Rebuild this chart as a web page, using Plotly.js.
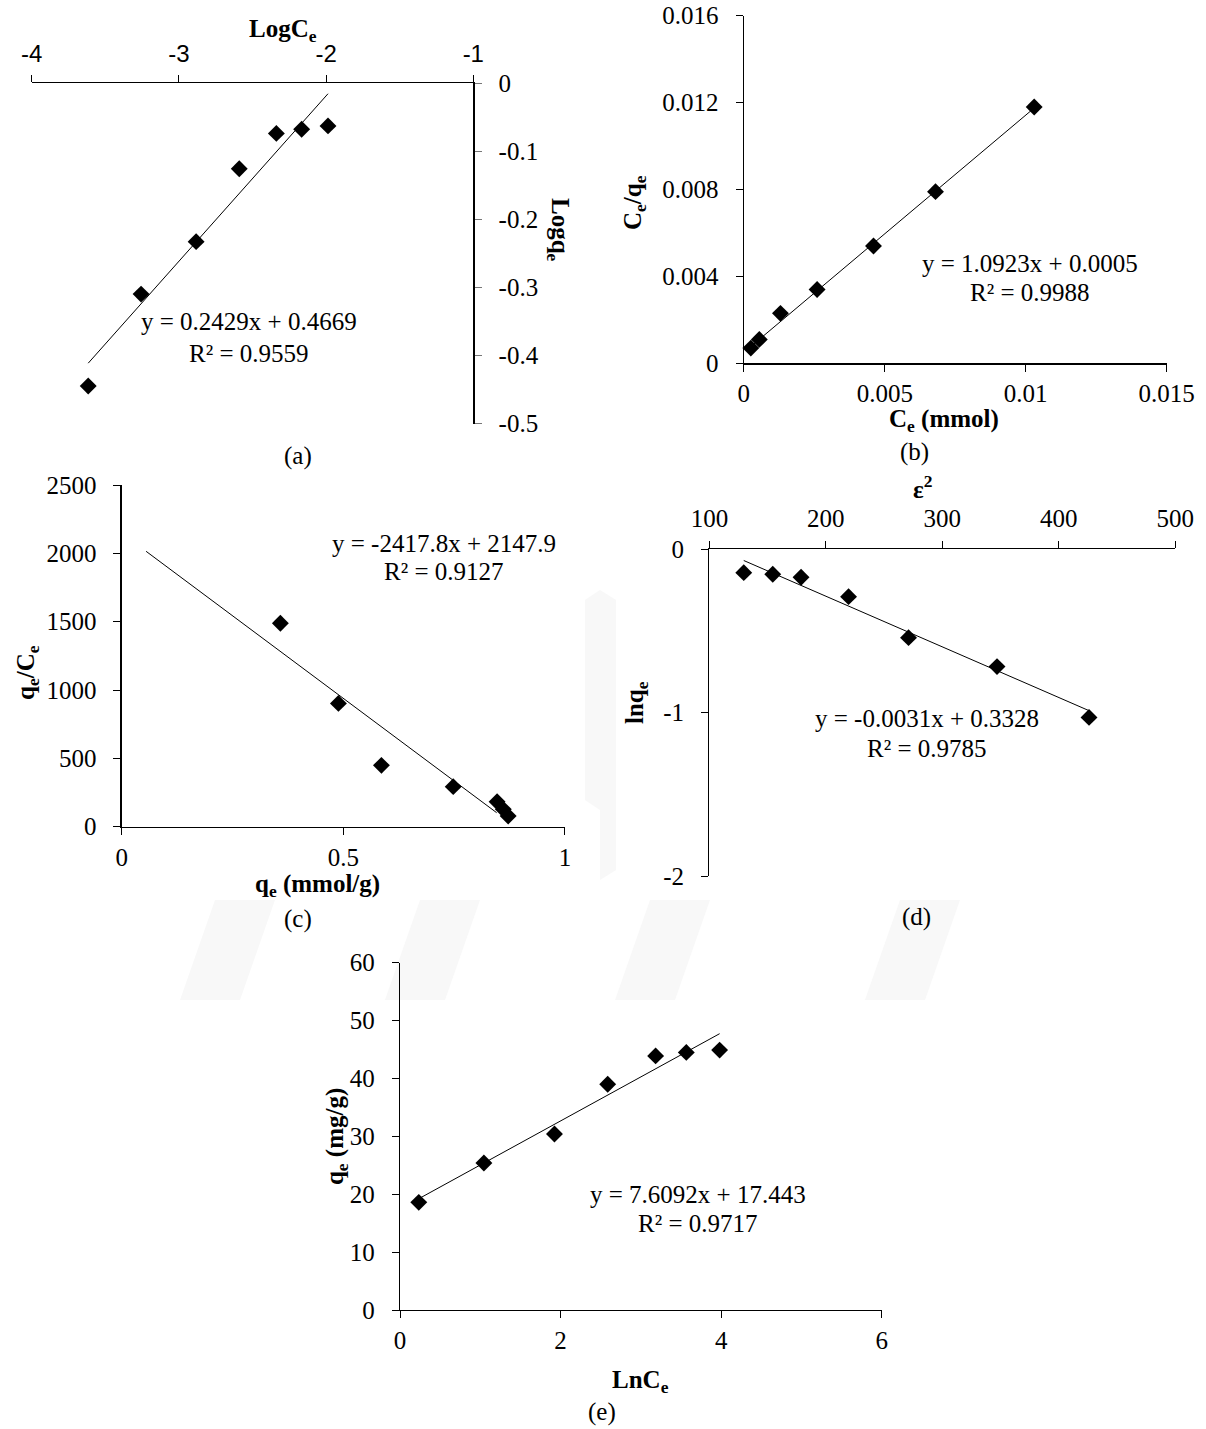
<!DOCTYPE html>
<html>
<head>
<meta charset="utf-8">
<script src="https://cdn.plot.ly/plotly-3.0.1.min.js"></script>
<style>html,body{margin:0;padding:0;background:#fff;}#chart{width:1206px;height:1429px;}</style>
</head>
<body>
<div id="chart"></div>
<script>
// ---------- DATA ----------
// (a) Freundlich: LogCe vs Logqe
const aX = [-3.616, -3.257, -2.883, -2.590, -2.338, -2.166, -1.987];
const aY = [-0.445, -0.310, -0.233, -0.126, -0.074, -0.068, -0.063];
const aFit = [0.2429, 0.4669];
const aEq = ["y = 0.2429x + 0.4669", "R² = 0.9559"];
const aXTickVals = [-4, -3, -2, -1];
const aXTickText = ["-4", "-3", "-2", "-1"];
const aYTickVals = [0, -0.1, -0.2, -0.3, -0.4, -0.5];
const aYTickText = ["0", "-0.1", "-0.2", "-0.3", "-0.4", "-0.5"];

// (b) Langmuir: Ce vs Ce/qe
const bX = [0.00025, 0.00055, 0.0013, 0.0026, 0.0046, 0.0068, 0.0103];
const bY = [0.0007, 0.0011, 0.0023, 0.0034, 0.0054, 0.0079, 0.0118];
const bFit = [1.0923, 0.0005];
const bEq = ["y = 1.0923x + 0.0005", "R² = 0.9988"];
const bXTickVals = [0, 0.005, 0.01, 0.015];
const bXTickText = ["0", "0.005", "0.01", "0.015"];
const bYTickVals = [0, 0.004, 0.008, 0.012, 0.016];
const bYTickText = ["0", "0.004", "0.008", "0.012", "0.016"];

// (c) Scatchard: qe vs qe/Ce
const cX = [0.358, 0.489, 0.586, 0.748, 0.847, 0.861, 0.872];
const cY = [1488, 902, 449, 293, 183, 127, 78];
const cFit = [-2417.8, 2147.9];
const cFitRange = [0.055, 0.846];
const cEq = ["y = -2417.8x + 2147.9", "R² = 0.9127"];
const cXTickVals = [0, 0.5, 1];
const cXTickText = ["0", "0.5", "1"];
const cYTickVals = [0, 500, 1000, 1500, 2000, 2500];
const cYTickText = ["0", "500", "1000", "1500", "2000", "2500"];

// (d) D-R: eps^2 vs lnqe
const dX = [129.5, 154.4, 178.7, 219.5, 271, 347, 426];
const dY = [-0.143, -0.153, -0.171, -0.290, -0.541, -0.718, -1.029];
const dFit = [-0.0031, 0.3328];
const dEq = ["y = -0.0031x + 0.3328", "R² = 0.9785"];
const dXTickVals = [100, 200, 300, 400, 500];
const dXTickText = ["100", "200", "300", "400", "500"];
const dYTickVals = [0, -1, -2];
const dYTickText = ["0", "-1", "-2"];

// (e) Temkin: LnCe vs qe
const eX = [0.234, 1.045, 1.924, 2.587, 3.184, 3.566, 3.981];
const eY = [18.6, 25.4, 30.4, 39.0, 43.9, 44.5, 44.9];
const eFit = [7.6092, 17.443];
const eEq = ["y = 7.6092x + 17.443", "R² = 0.9717"];
const eXTickVals = [0, 2, 4, 6];
const eXTickText = ["0", "2", "4", "6"];
const eYTickVals = [0, 10, 20, 30, 40, 50, 60];
const eYTickText = ["0", "10", "20", "30", "40", "50", "60"];

// ---------- LAYOUT HELPERS ----------
const W = 1206, H = 1429;
const SERIF = "Liberation Serif";
const SANS = "Liberation Sans";
const FS = 25;
const hx = v => v / W;
const vy = v => 1 - v / H;
const domX = (l, r) => [l / W, r / W];
const domY = (t, b) => [1 - b / H, 1 - t / H];

function scatter(x, y, xa, ya) {
  return {x: x, y: y, xaxis: xa, yaxis: ya, type: 'scatter', mode: 'markers',
    marker: {symbol: 'diamond', size: 13, color: '#000'}, hoverinfo: 'skip', cliponaxis: false};
}
function fitLine(fit, x0, x1, xa, ya) {
  const xs = [x0, x1];
  return {x: xs, y: xs.map(v => fit[0] * v + fit[1]), xaxis: xa, yaxis: ya, type: 'scatter', mode: 'lines',
    line: {color: '#000', width: 1}, hoverinfo: 'skip', cliponaxis: false};
}
const mn = a => Math.min.apply(null, a), mx = a => Math.max.apply(null, a);

const data = [
  fitLine(aFit, mn(aX), mx(aX), 'x', 'y'), scatter(aX, aY, 'x', 'y'),
  fitLine(bFit, mn(bX), mx(bX), 'x2', 'y2'), scatter(bX, bY, 'x2', 'y2'),
  fitLine(cFit, cFitRange[0], cFitRange[1], 'x3', 'y3'), scatter(cX, cY, 'x3', 'y3'),
  fitLine(dFit, mn(dX), mx(dX), 'x4', 'y4'), scatter(dX, dY, 'x4', 'y4'),
  fitLine(eFit, mn(eX), mx(eX), 'x5', 'y5'), scatter(eX, eY, 'x5', 'y5')
];

function ax(extra) {
  return Object.assign({
    showline: true, linecolor: '#000', linewidth: 1.3, ticks: 'outside', ticklen: 7, tickwidth: 1,
    tickcolor: '#000', showgrid: false, zeroline: false, fixedrange: true, tickmode: 'array',
    ticklabelstandoff: 12,
    tickfont: {family: SERIF, size: FS, color: '#000'}
  }, extra);
}

function ann(text, x, y, opts) {
  return Object.assign({text: text, x: hx(x), y: vy(y), xref: 'paper', yref: 'paper', showarrow: false,
    xanchor: 'center', yanchor: 'middle', font: {family: SERIF, size: FS, color: '#000'}}, opts || {});
}

// faint background watermark bands (decoration only, paper pixels)
function band(pts) {
  const d = pts.map((p, i) => (i ? 'L' : 'M') + hx(p[0]).toFixed(4) + ',' + vy(p[1]).toFixed(4)).join(' ') + ' Z';
  return {type: 'path', xref: 'paper', yref: 'paper', path: d, fillcolor: '#f8f8f8', line: {width: 0}, layer: 'below'};
}
const shapes = [
  band([[585, 600], [600, 590], [600, 810], [585, 800]]),
  band([[600, 590], [616, 600], [616, 870], [600, 880]]),
  band([[215, 900], [275, 900], [240, 1000], [180, 1000]]),
  band([[420, 900], [480, 900], [445, 1000], [385, 1000]]),
  band([[650, 900], [710, 900], [675, 1000], [615, 1000]]),
  band([[900, 900], [960, 900], [925, 1000], [865, 1000]])
];

const layout = {
  width: W, height: H, margin: {l: 0, r: 0, t: 0, b: 0}, showlegend: false,
  paper_bgcolor: '#fff', plot_bgcolor: 'rgba(0,0,0,0)',
  font: {family: SERIF, size: FS, color: '#000'},
  shapes: shapes,
  // (a)
  xaxis: ax({domain: domX(31.7, 473.3), range: [-4, -1], side: 'top', anchor: 'y',
    tickvals: aXTickVals, ticktext: aXTickText, tickfont: {family: SANS, size: 24, color: '#000'}, ticklabelstandoff: 3}),
  yaxis: ax({domain: domY(83, 423.5), range: [-0.5, 0], side: 'right', anchor: 'x',
    tickvals: aYTickVals, ticktext: aYTickText, tickcolor: '#777'}),
  // (b)
  xaxis2: ax({domain: domX(743.8, 1166.7), range: [0, 0.015], anchor: 'y2',
    tickvals: bXTickVals, ticktext: bXTickText, ticklabelstandoff: 0}),
  yaxis2: ax({domain: domY(15.7, 363.3), range: [0, 0.016], anchor: 'x2',
    tickvals: bYTickVals, ticktext: bYTickText}),
  // (c)
  xaxis3: ax({domain: domX(121.7, 564.9), range: [0, 1], anchor: 'y3',
    tickvals: cXTickVals, ticktext: cXTickText, ticklabelstandoff: 1}),
  yaxis3: ax({domain: domY(485, 826.7), range: [0, 2500], anchor: 'x3',
    tickvals: cYTickVals, ticktext: cYTickText}),
  // (d)
  xaxis4: ax({domain: domX(709.4, 1175.2), range: [100, 500], side: 'top', anchor: 'y4',
    tickvals: dXTickVals, ticktext: dXTickText, ticklabelstandoff: 4}),
  yaxis4: ax({domain: domY(549.3, 876), range: [-2, 0], anchor: 'x4',
    tickvals: dYTickVals, ticktext: dYTickText}),
  // (e)
  xaxis5: ax({domain: domX(400, 881.7), range: [0, 6], anchor: 'y5',
    tickvals: eXTickVals, ticktext: eXTickText, ticklabelstandoff: 1}),
  yaxis5: ax({domain: domY(962.7, 1310), range: [0, 60], anchor: 'x5',
    tickvals: eYTickVals, ticktext: eYTickText}),
  annotations: [
    // (a)
    ann('<b>LogC<sub>e</sub></b>', 283, 30),
    ann('<b>Logq<sub>e</sub></b>', 558, 230, {textangle: 90}),
    ann(aEq[0], 249, 322), ann(aEq[1], 249, 353),
    ann('(a)', 297.7, 456),
    // (b)
    ann('<b>C<sub>e</sub>/q<sub>e</sub></b>', 634, 203, {textangle: -90}),
    ann('<b>C<sub>e</sub> (mmol)</b>', 944, 420),
    ann(bEq[0], 1030, 263.3), ann(bEq[1], 1030, 292),
    ann('(b)', 914, 452),
    // (c)
    ann('<b>q<sub>e</sub>/C<sub>e</sub></b>', 27, 673, {textangle: -90}),
    ann('<b>q<sub>e</sub> (mmol/g)</b>', 317.6, 885),
    ann(cEq[0], 444, 543.3), ann(cEq[1], 444, 571.7),
    ann('(c)', 297.7, 919),
    // (d)
    ann('<b>ε<sup>2</sup></b>', 922.8, 487),
    ann('<b>lnq<sub>e</sub></b>', 637, 703, {textangle: -90}),
    ann(dEq[0], 926.6, 718.3), ann(dEq[1], 926.6, 748.3),
    ann('(d)', 916, 916.7),
    // (e)
    ann('<b>q<sub>e</sub> (mg/g)</b>', 336.4, 1136.7, {textangle: -90}),
    ann('<b>LnC<sub>e</sub></b>', 640.6, 1381),
    ann(eEq[0], 698, 1194), ann(eEq[1], 698, 1223.3),
    ann('(e)', 602.3, 1411.7)
  ]
};

Plotly.newPlot('chart', data, layout, {staticPlot: true, displayModeBar: false});
</script>
</body>
</html>
